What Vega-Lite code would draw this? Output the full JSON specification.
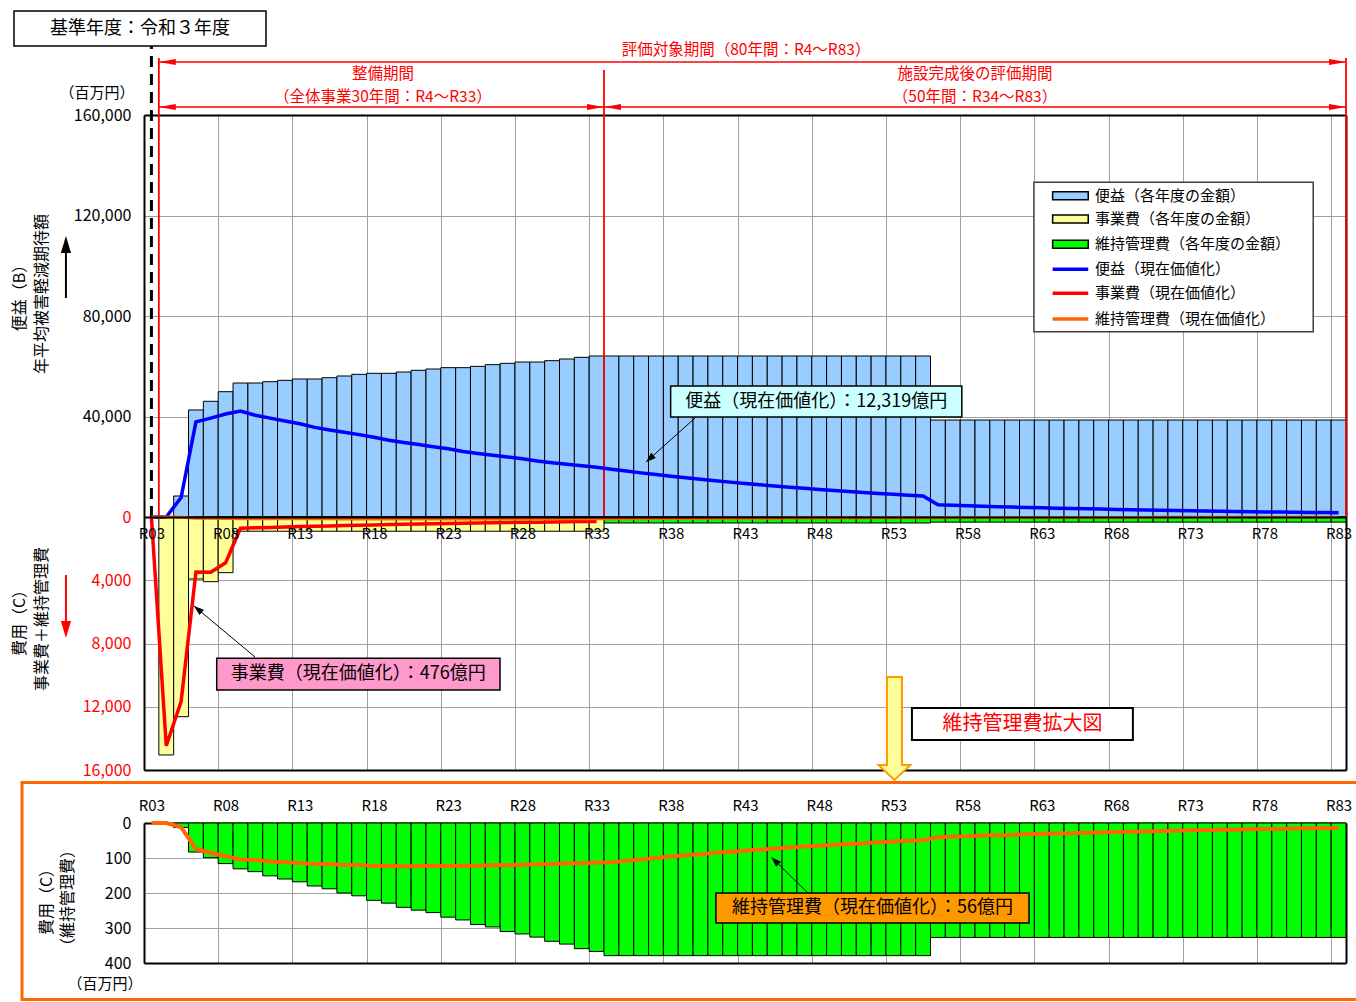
{
  "$schema": "https://vega.github.io/schema/vega-lite/v6.json",
  "width": 1356,
  "height": 1002,
  "autosize": {"type": "none"},
  "padding": 0,
  "background": "white",
  "config": {
    "view": {"stroke": null},
    "font": "Noto Sans CJK JP",
    "axis": {"labelFont": "Noto Sans CJK JP", "gridColor": "#a0a0a0", "gridWidth": 1, "gridOpacity": 1, "domainColor": "#000000", "domainWidth": 2, "labelFlush": false, "labelOverlap": false},
    "scale": {"continuousPadding": 0},
    "text": {"font": "Noto Sans CJK JP"}
  },
  "datasets": {
    "main": [
      {"year":3,"Bpv":0,"Cpv":0,"Mpv":0},
      {"year":4,"C":15050,"Bpv":0,"Cpv":14470,"Mpv":0},
      {"year":5,"B":8360,"C":12630,"M":13,"Bpv":7729,"Cpv":11677,"Mpv":12},
      {"year":6,"B":42600,"C":3920,"M":83,"Bpv":37871,"Cpv":3485,"Mpv":74},
      {"year":7,"B":46050,"C":4090,"M":99,"Bpv":39364,"Cpv":3496,"Mpv":85},
      {"year":8,"B":49870,"C":3520,"M":116,"Bpv":40990,"Cpv":2893,"Mpv":95},
      {"year":9,"B":53330,"C":900,"M":131,"Bpv":42148,"Cpv":711,"Mpv":104},
      {"year":10,"B":53330,"C":900,"M":139,"Bpv":40526,"Cpv":684,"Mpv":106},
      {"year":11,"B":53860,"C":900,"M":151,"Bpv":39355,"Cpv":658,"Mpv":110},
      {"year":12,"B":54400,"C":900,"M":160,"Bpv":38221,"Cpv":632,"Mpv":112},
      {"year":13,"B":54930,"C":900,"M":168,"Bpv":37109,"Cpv":608,"Mpv":114},
      {"year":14,"B":54930,"C":900,"M":180,"Bpv":35681,"Cpv":585,"Mpv":117},
      {"year":15,"B":55460,"C":900,"M":188,"Bpv":34640,"Cpv":562,"Mpv":117},
      {"year":16,"B":56120,"C":900,"M":200,"Bpv":33704,"Cpv":541,"Mpv":120},
      {"year":17,"B":56780,"C":900,"M":208,"Bpv":32789,"Cpv":520,"Mpv":120},
      {"year":18,"B":57190,"C":900,"M":221,"Bpv":31755,"Cpv":500,"Mpv":123},
      {"year":19,"B":57190,"C":900,"M":229,"Bpv":30534,"Cpv":481,"Mpv":122},
      {"year":20,"B":57710,"C":900,"M":241,"Bpv":29627,"Cpv":462,"Mpv":124},
      {"year":21,"B":58380,"C":900,"M":249,"Bpv":28818,"Cpv":444,"Mpv":123},
      {"year":22,"B":58900,"C":900,"M":256,"Bpv":27956,"Cpv":427,"Mpv":122},
      {"year":23,"B":59440,"C":900,"M":269,"Bpv":27127,"Cpv":411,"Mpv":123},
      {"year":24,"B":59440,"C":900,"M":277,"Bpv":26084,"Cpv":395,"Mpv":122},
      {"year":25,"B":59960,"C":900,"M":290,"Bpv":25301,"Cpv":380,"Mpv":122},
      {"year":26,"B":60630,"C":900,"M":297,"Bpv":24599,"Cpv":365,"Mpv":120},
      {"year":27,"B":61160,"C":900,"M":310,"Bpv":23860,"Cpv":351,"Mpv":121},
      {"year":28,"B":61690,"C":900,"M":317,"Bpv":23141,"Cpv":338,"Mpv":119},
      {"year":29,"B":61690,"C":900,"M":326,"Bpv":22251,"Cpv":325,"Mpv":118},
      {"year":30,"B":62220,"C":900,"M":338,"Bpv":21579,"Cpv":312,"Mpv":117},
      {"year":31,"B":62890,"C":900,"M":346,"Bpv":20973,"Cpv":300,"Mpv":115},
      {"year":32,"B":63550,"C":900,"M":359,"Bpv":20377,"Cpv":289,"Mpv":115},
      {"year":33,"B":64080,"C":900,"M":367,"Bpv":19757,"Cpv":277,"Mpv":113},
      {"year":34,"B":64080,"M":379,"Bpv":18997,"Mpv":112},
      {"year":35,"B":64080,"M":379,"Bpv":18267,"Mpv":108},
      {"year":36,"B":64080,"M":379,"Bpv":17564,"Mpv":104},
      {"year":37,"B":64080,"M":379,"Bpv":16888,"Mpv":100},
      {"year":38,"B":64080,"M":379,"Bpv":16239,"Mpv":96},
      {"year":39,"B":64080,"M":379,"Bpv":15614,"Mpv":92},
      {"year":40,"B":64080,"M":379,"Bpv":15014,"Mpv":89},
      {"year":41,"B":64080,"M":379,"Bpv":14436,"Mpv":85},
      {"year":42,"B":64080,"M":379,"Bpv":13881,"Mpv":82},
      {"year":43,"B":64080,"M":379,"Bpv":13347,"Mpv":79},
      {"year":44,"B":64080,"M":379,"Bpv":12834,"Mpv":76},
      {"year":45,"B":64080,"M":379,"Bpv":12340,"Mpv":73},
      {"year":46,"B":64080,"M":379,"Bpv":11866,"Mpv":70},
      {"year":47,"B":64080,"M":379,"Bpv":11409,"Mpv":67},
      {"year":48,"B":64080,"M":379,"Bpv":10970,"Mpv":65},
      {"year":49,"B":64080,"M":379,"Bpv":10549,"Mpv":62},
      {"year":50,"B":64080,"M":379,"Bpv":10143,"Mpv":60},
      {"year":51,"B":64080,"M":379,"Bpv":9753,"Mpv":58},
      {"year":52,"B":64080,"M":379,"Bpv":9378,"Mpv":55},
      {"year":53,"B":64080,"M":379,"Bpv":9017,"Mpv":53},
      {"year":54,"B":64080,"M":379,"Bpv":8670,"Mpv":51},
      {"year":55,"B":64080,"M":379,"Bpv":8337,"Mpv":49},
      {"year":56,"B":38600,"M":327,"Bpv":4829,"Mpv":41},
      {"year":57,"B":38600,"M":327,"Bpv":4643,"Mpv":39},
      {"year":58,"B":38600,"M":327,"Bpv":4464,"Mpv":38},
      {"year":59,"B":38600,"M":327,"Bpv":4293,"Mpv":36},
      {"year":60,"B":38600,"M":327,"Bpv":4127,"Mpv":35},
      {"year":61,"B":38600,"M":327,"Bpv":3969,"Mpv":34},
      {"year":62,"B":38600,"M":327,"Bpv":3816,"Mpv":32},
      {"year":63,"B":38600,"M":327,"Bpv":3669,"Mpv":31},
      {"year":64,"B":38600,"M":327,"Bpv":3528,"Mpv":30},
      {"year":65,"B":38600,"M":327,"Bpv":3393,"Mpv":29},
      {"year":66,"B":38600,"M":327,"Bpv":3262,"Mpv":28},
      {"year":67,"B":38600,"M":327,"Bpv":3137,"Mpv":27},
      {"year":68,"B":38600,"M":327,"Bpv":3016,"Mpv":26},
      {"year":69,"B":38600,"M":327,"Bpv":2900,"Mpv":25},
      {"year":70,"B":38600,"M":327,"Bpv":2788,"Mpv":24},
      {"year":71,"B":38600,"M":327,"Bpv":2681,"Mpv":23},
      {"year":72,"B":38600,"M":327,"Bpv":2578,"Mpv":22},
      {"year":73,"B":38600,"M":327,"Bpv":2479,"Mpv":21},
      {"year":74,"B":38600,"M":327,"Bpv":2384,"Mpv":20},
      {"year":75,"B":38600,"M":327,"Bpv":2292,"Mpv":19},
      {"year":76,"B":38600,"M":327,"Bpv":2204,"Mpv":19},
      {"year":77,"B":38600,"M":327,"Bpv":2119,"Mpv":18},
      {"year":78,"B":38600,"M":327,"Bpv":2037,"Mpv":17},
      {"year":79,"B":38600,"M":327,"Bpv":1959,"Mpv":17},
      {"year":80,"B":38600,"M":327,"Bpv":1884,"Mpv":16},
      {"year":81,"B":38600,"M":327,"Bpv":1811,"Mpv":15},
      {"year":82,"B":38600,"M":327,"Bpv":1742,"Mpv":15},
      {"year":83,"B":38600,"M":327,"Bpv":1675,"Mpv":14}
    ]
  },
  "resolve": {"scale": {"y": "independent"}, "axis": {"x": "independent", "y": "independent"}},
  "layer": [
    {
      "data": {"name": "main"},
      "mark": {"type": "bar", "orient": "vertical", "width": 14.84, "fill": "#99CCFF", "stroke": "#000000", "strokeWidth": 1},
      "encoding": {
        "x": {"field": "year", "type": "quantitative", "scale": {"domain": [2.5, 83.5], "range": [144, 1346], "zero": false, "nice": false, "padding": 0},
          "axis": {"orient": "top", "offset": -115, "values": [2.5,7.5,12.5,17.5,22.5,27.5,32.5,37.5,42.5,47.5,52.5,57.5,62.5,67.5,72.5,77.5,82.5], "grid": true, "labels": false, "ticks": false, "domain": true, "title": null}},
        "y": {"field": "B", "type": "quantitative", "scale": {"domain": [0, 160000], "range": [517, 115], "zero": false, "nice": false},
          "axis": {"orient": "left", "offset": -144, "values": [40000, 80000, 120000, 160000], "labelExpr": "format(datum.value, ',')", "grid": true, "ticks": false, "labelPadding": 13, "labelFontSize": 16, "labelColor": "#000000", "domain": true, "title": null}}
      }
    },
    {
      "data": {"name": "main"},
      "mark": {"type": "bar", "orient": "vertical", "width": 14.84, "fill": "#00FF00", "stroke": "#000000", "strokeWidth": 1},
      "encoding": {
        "x": {"field": "year", "type": "quantitative", "scale": {"domain": [2.5, 83.5], "range": [144, 1346], "zero": false, "nice": false, "padding": 0},
          "axis": {"orient": "bottom", "offset": -232, "labels": false, "ticks": false, "grid": false, "domain": true, "title": null}},
        "y": {"field": "M", "type": "quantitative", "scale": {"domain": [0, 16000], "range": [517, 770], "zero": false, "nice": false},
          "axis": {"orient": "right", "offset": -10, "labels": false, "ticks": false, "grid": false, "domain": true, "title": null}}
      }
    },
    {
      "data": {"name": "main"},
      "mark": {"type": "bar", "orient": "vertical", "width": 14.84, "fill": "#FFFF99", "stroke": "#000000", "strokeWidth": 1},
      "encoding": {
        "x": {"field": "year", "type": "quantitative", "scale": {"domain": [2.5, 83.5], "range": [144, 1346], "zero": false, "nice": false, "padding": 0},
          "axis": {"orient": "top", "offset": -517, "values": [2.5,7.5,12.5,17.5,22.5,27.5,32.5,37.5,42.5,47.5,52.5,57.5,62.5,67.5,72.5,77.5,82.5], "grid": true, "labels": false, "ticks": false, "domain": false, "title": null}},
        "y": {"field": "C", "type": "quantitative", "scale": {"domain": [0, 16000], "range": [517, 770], "zero": false, "nice": false},
          "axis": {"orient": "left", "offset": -144, "values": [0, 4000, 8000, 12000, 16000], "labelExpr": "format(datum.value, ',')", "grid": true, "ticks": false, "labelPadding": 13, "labelFontSize": 16, "labelColor": "#FF0000", "domain": true, "title": null}}
      }
    },
    {
      "data": {"name": "main"},
      "mark": {"type": "bar", "orient": "vertical", "width": 14.84, "fill": "#00FF00", "stroke": "#000000", "strokeWidth": 1},
      "encoding": {
        "x": {"field": "year", "type": "quantitative", "scale": {"domain": [2.5, 83.5], "range": [144, 1346], "zero": false, "nice": false, "padding": 0},
          "axis": {"orient": "top", "offset": -823, "values": [2.5,7.5,12.5,17.5,22.5,27.5,32.5,37.5,42.5,47.5,52.5,57.5,62.5,67.5,72.5,77.5,82.5], "labelExpr": "'R' + (datum.value + 0.5 < 10 ? '0' : '') + (datum.value + 0.5)", "labelOffset": 7.42, "labelPadding": 10, "labelFontSize": 15, "labelColor": "#000000", "grid": true, "ticks": false, "domain": true, "title": null}},
        "y": {"field": "M", "type": "quantitative", "scale": {"domain": [0, 400], "range": [823, 963], "zero": false, "nice": false},
          "axis": {"orient": "left", "offset": -144, "values": [0, 100, 200, 300, 400], "grid": true, "ticks": false, "labelPadding": 13, "labelFontSize": 16, "labelColor": "#000000", "domain": true, "title": null}}
      }
    },
    {
      "data": {"values": [{"x": 3, "y": 0, "y2": 187500}]},
      "mark": {"type": "rule", "color": "#000000", "strokeWidth": 3, "strokeDash": [11, 7]},
      "encoding": {
        "x": {"field": "x", "type": "quantitative", "scale": {"domain": [2.5, 83.5], "range": [144, 1346], "zero": false, "nice": false, "padding": 0}, "axis": null},
        "y": {"field": "y", "type": "quantitative", "scale": {"domain": [0, 160000], "range": [517, 115], "zero": false, "nice": false}, "axis": null},
        "y2": {"field": "y2"}
      }
    },
    {
      "data": {"values": [{"x": 3.5, "y": 0, "y2": 182700}, {"x": 33.5, "y": 0, "y2": 177900}, {"x": 83.5, "y": 0, "y2": 182700}]},
      "mark": {"type": "rule", "color": "#FF0000", "strokeWidth": 1.8},
      "encoding": {
        "x": {"field": "x", "type": "quantitative", "scale": {"domain": [2.5, 83.5], "range": [144, 1346], "zero": false, "nice": false, "padding": 0}, "axis": null},
        "y": {"field": "y", "type": "quantitative", "scale": {"domain": [0, 160000], "range": [517, 115], "zero": false, "nice": false}, "axis": null},
        "y2": {"field": "y2"}
      }
    },
    {
      "data": {"name": "main"},
      "mark": {"type": "line", "color": "#0000FF", "strokeWidth": 3.5},
      "encoding": {
        "x": {"field": "year", "type": "quantitative", "scale": {"domain": [2.5, 83.5], "range": [144, 1346], "zero": false, "nice": false, "padding": 0},
          "axis": {"orient": "bottom", "offset": -485, "values": [3,8,13,18,23,28,33,38,43,48,53,58,63,68,73,78,83], "labelExpr": "'R' + (datum.value < 10 ? '0' : '') + datum.value", "labelPadding": 9, "labelFontSize": 15, "labelColor": "#000000", "ticks": false, "grid": false, "domain": true, "zindex": 1, "title": null}},
        "y": {"field": "Bpv", "type": "quantitative", "scale": {"domain": [0, 160000], "range": [517, 115], "zero": false, "nice": false},
          "axis": {"orient": "right", "offset": -10, "labels": false, "ticks": false, "grid": false, "domain": true, "title": null}}
      }
    },
    {
      "data": {"name": "main"},
      "mark": {"type": "line", "color": "#FF0000", "strokeWidth": 3.5},
      "encoding": {
        "x": {"field": "year", "type": "quantitative", "scale": {"domain": [2.5, 83.5], "range": [144, 1346], "zero": false, "nice": false, "padding": 0}, "axis": null},
        "y": {"field": "Cpv", "type": "quantitative", "scale": {"domain": [0, 16000], "range": [517, 770], "zero": false, "nice": false}, "axis": null}
      }
    },
    {
      "data": {"name": "main"},
      "mark": {"type": "line", "color": "#FF6600", "strokeWidth": 3},
      "encoding": {
        "x": {"field": "year", "type": "quantitative", "scale": {"domain": [2.5, 83.5], "range": [144, 1346], "zero": false, "nice": false, "padding": 0}, "axis": null},
        "y": {"field": "Mpv", "type": "quantitative", "scale": {"domain": [0, 16000], "range": [517, 770], "zero": false, "nice": false}, "axis": null}
      }
    },
    {
      "data": {"name": "main"},
      "mark": {"type": "line", "color": "#FF6600", "strokeWidth": 4},
      "encoding": {
        "x": {"field": "year", "type": "quantitative", "scale": {"domain": [2.5, 83.5], "range": [144, 1346], "zero": false, "nice": false, "padding": 0},
          "axis": {"orient": "bottom", "offset": -39, "labels": false, "ticks": false, "grid": false, "domain": true, "title": null}},
        "y": {"field": "Mpv", "type": "quantitative", "scale": {"domain": [0, 400], "range": [823, 963], "zero": false, "nice": false},
          "axis": {"orient": "right", "offset": -10, "labels": false, "ticks": false, "grid": false, "domain": true, "title": null}}
      }
    },
    {
      "data": {"values": [{"x": -6.26, "x2": 10.72, "y": 187500, "y2": 201400}]},
      "mark": {"type": "rect", "fill": "#FFFFFF", "stroke": "#000000", "strokeWidth": 1.5},
      "encoding": {
        "x": {"field": "x", "type": "quantitative", "scale": {"domain": [2.5, 83.5], "range": [144, 1346], "zero": false, "nice": false, "padding": 0}, "axis": null},
        "x2": {"field": "x2"},
        "y": {"field": "y", "type": "quantitative", "scale": {"domain": [0, 160000], "range": [517, 115], "zero": false, "nice": false}, "axis": null},
        "y2": {"field": "y2"}
      }
    },
    {
      "data": {"values": [{"x": 2.23, "y": 194200, "t": "基準年度：令和３年度"}]},
      "mark": {"type": "text", "fontSize": 18, "color": "#000000", "align": "center", "baseline": "middle"},
      "encoding": {
        "x": {"field": "x", "type": "quantitative", "scale": {"domain": [2.5, 83.5], "range": [144, 1346], "zero": false, "nice": false, "padding": 0}, "axis": null},
        "y": {"field": "y", "type": "quantitative", "scale": {"domain": [0, 160000], "range": [517, 115], "zero": false, "nice": false}, "axis": null},
        "text": {"field": "t"}
      }
    },
    {
      "data": {"values": [{"x": 3.5, "x2": 83.5, "y": 181100}, {"x": 3.5, "x2": 33.5, "y": 163200}, {"x": 33.5, "x2": 83.5, "y": 163200}]},
      "mark": {"type": "rule", "color": "#FF0000", "strokeWidth": 1.5},
      "encoding": {
        "x": {"field": "x", "type": "quantitative", "scale": {"domain": [2.5, 83.5], "range": [144, 1346], "zero": false, "nice": false, "padding": 0}, "axis": null},
        "x2": {"field": "x2"},
        "y": {"field": "y", "type": "quantitative", "scale": {"domain": [0, 160000], "range": [517, 115], "zero": false, "nice": false}, "axis": null}
      }
    },
    {
      "data": {"values": [{"x": 3.5, "y": 181100}, {"x": 3.5, "y": 163200}, {"x": 33.5, "y": 163200}]},
      "mark": {"type": "point", "shape": "M0,0L1,-0.18L1,0.18Z", "size": 1156, "filled": true, "color": "#FF0000", "opacity": 1, "strokeWidth": 0},
      "encoding": {
        "x": {"field": "x", "type": "quantitative", "scale": {"domain": [2.5, 83.5], "range": [144, 1346], "zero": false, "nice": false, "padding": 0}, "axis": null},
        "y": {"field": "y", "type": "quantitative", "scale": {"domain": [0, 160000], "range": [517, 115], "zero": false, "nice": false}, "axis": null}
      }
    },
    {
      "data": {"values": [{"x": 83.5, "y": 181100}, {"x": 33.5, "y": 163200}, {"x": 83.5, "y": 163200}]},
      "mark": {"type": "point", "shape": "M0,0L-1,-0.18L-1,0.18Z", "size": 1156, "filled": true, "color": "#FF0000", "opacity": 1, "strokeWidth": 0},
      "encoding": {
        "x": {"field": "x", "type": "quantitative", "scale": {"domain": [2.5, 83.5], "range": [144, 1346], "zero": false, "nice": false, "padding": 0}, "axis": null},
        "y": {"field": "y", "type": "quantitative", "scale": {"domain": [0, 160000], "range": [517, 115], "zero": false, "nice": false}, "axis": null}
      }
    },
    {
      "data": {"values": [
        {"x": 43.07, "y": 185900, "t": "評価対象期間（80年間：R4～R83）"},
        {"x": 18.6, "y": 176300, "t": "整備期間"},
        {"x": 18.6, "y": 167200, "t": "（全体事業30年間：R4～R33）"},
        {"x": 58.5, "y": 176300, "t": "施設完成後の評価期間"},
        {"x": 58.5, "y": 167200, "t": "（50年間：R34～R83）"}
      ]},
      "mark": {"type": "text", "fontSize": 15.5, "color": "#FF0000", "align": "center", "baseline": "middle"},
      "encoding": {
        "x": {"field": "x", "type": "quantitative", "scale": {"domain": [2.5, 83.5], "range": [144, 1346], "zero": false, "nice": false, "padding": 0}, "axis": null},
        "y": {"field": "y", "type": "quantitative", "scale": {"domain": [0, 160000], "range": [517, 115], "zero": false, "nice": false}, "axis": null},
        "text": {"field": "t"}
      }
    },
    {
      "data": {"values": [{"x": -5.86, "y": 88750, "t": "便益（B）"}, {"x": -4.37, "y": 88750, "t": "年平均被害軽減期待額"}]},
      "mark": {"type": "text", "fontSize": 16, "color": "#000000", "align": "center", "baseline": "middle", "angle": 270},
      "encoding": {
        "x": {"field": "x", "type": "quantitative", "scale": {"domain": [2.5, 83.5], "range": [144, 1346], "zero": false, "nice": false, "padding": 0}, "axis": null},
        "y": {"field": "y", "type": "quantitative", "scale": {"domain": [0, 160000], "range": [517, 115], "zero": false, "nice": false}, "axis": null},
        "text": {"field": "t"}
      }
    },
    {
      "data": {"values": [{"x": -0.67, "y": 168750, "t": "（百万円）"}]},
      "mark": {"type": "text", "fontSize": 15, "color": "#000000", "align": "center", "baseline": "middle"},
      "encoding": {
        "x": {"field": "x", "type": "quantitative", "scale": {"domain": [2.5, 83.5], "range": [144, 1346], "zero": false, "nice": false, "padding": 0}, "axis": null},
        "y": {"field": "y", "type": "quantitative", "scale": {"domain": [0, 160000], "range": [517, 115], "zero": false, "nice": false}, "axis": null},
        "text": {"field": "t"}
      }
    },
    {
      "data": {"values": [{"x": -2.76, "y": 87160, "y2": 105070}]},
      "mark": {"type": "rule", "color": "#000000", "strokeWidth": 2},
      "encoding": {
        "x": {"field": "x", "type": "quantitative", "scale": {"domain": [2.5, 83.5], "range": [144, 1346], "zero": false, "nice": false, "padding": 0}, "axis": null},
        "y": {"field": "y", "type": "quantitative", "scale": {"domain": [0, 160000], "range": [517, 115], "zero": false, "nice": false}, "axis": null},
        "y2": {"field": "y2"}
      }
    },
    {
      "data": {"values": [{"x": -2.76, "y": 111840}]},
      "mark": {"type": "point", "shape": "M0,0L-0.3,1L0.3,1Z", "size": 1156, "filled": true, "color": "#000000", "opacity": 1, "strokeWidth": 0},
      "encoding": {
        "x": {"field": "x", "type": "quantitative", "scale": {"domain": [2.5, 83.5], "range": [144, 1346], "zero": false, "nice": false, "padding": 0}, "axis": null},
        "y": {"field": "y", "type": "quantitative", "scale": {"domain": [0, 160000], "range": [517, 115], "zero": false, "nice": false}, "axis": null}
      }
    },
    {
      "data": {"values": [{"x": -5.86, "y": 6450, "t": "費用（C）"}, {"x": -4.37, "y": 6450, "t": "事業費＋維持管理費"}]},
      "mark": {"type": "text", "fontSize": 16, "color": "#000000", "align": "center", "baseline": "middle", "angle": 270},
      "encoding": {
        "x": {"field": "x", "type": "quantitative", "scale": {"domain": [2.5, 83.5], "range": [144, 1346], "zero": false, "nice": false, "padding": 0}, "axis": null},
        "y": {"field": "y", "type": "quantitative", "scale": {"domain": [0, 16000], "range": [517, 770], "zero": false, "nice": false}, "axis": null},
        "text": {"field": "t"}
      }
    },
    {
      "data": {"values": [{"x": -2.76, "y": 3668, "y2": 6580}]},
      "mark": {"type": "rule", "color": "#FF0000", "strokeWidth": 2},
      "encoding": {
        "x": {"field": "x", "type": "quantitative", "scale": {"domain": [2.5, 83.5], "range": [144, 1346], "zero": false, "nice": false, "padding": 0}, "axis": null},
        "y": {"field": "y", "type": "quantitative", "scale": {"domain": [0, 16000], "range": [517, 770], "zero": false, "nice": false}, "axis": null},
        "y2": {"field": "y2"}
      }
    },
    {
      "data": {"values": [{"x": -2.76, "y": 7652}]},
      "mark": {"type": "point", "shape": "M0,0L-0.3,-1L0.3,-1Z", "size": 1156, "filled": true, "color": "#FF0000", "opacity": 1, "strokeWidth": 0},
      "encoding": {
        "x": {"field": "x", "type": "quantitative", "scale": {"domain": [2.5, 83.5], "range": [144, 1346], "zero": false, "nice": false, "padding": 0}, "axis": null},
        "y": {"field": "y", "type": "quantitative", "scale": {"domain": [0, 16000], "range": [517, 770], "zero": false, "nice": false}, "axis": null}
      }
    },
    {
      "data": {"values": [{"x": 39.63, "x2": 36.33, "y": 39400, "y2": 21890}]},
      "mark": {"type": "rule", "color": "#000000", "strokeWidth": 1},
      "encoding": {
        "x": {"field": "x", "type": "quantitative", "scale": {"domain": [2.5, 83.5], "range": [144, 1346], "zero": false, "nice": false, "padding": 0}, "axis": null},
        "x2": {"field": "x2"},
        "y": {"field": "y", "type": "quantitative", "scale": {"domain": [0, 160000], "range": [517, 115], "zero": false, "nice": false}, "axis": null},
        "y2": {"field": "y2"}
      }
    },
    {
      "data": {"values": [{"x": 36.33, "y": 21890}]},
      "mark": {"type": "point", "shape": "M0,0L1,-0.35L1,0.35Z", "size": 400, "angle": 318.7, "filled": true, "color": "#000000", "opacity": 1, "strokeWidth": 0},
      "encoding": {
        "x": {"field": "x", "type": "quantitative", "scale": {"domain": [2.5, 83.5], "range": [144, 1346], "zero": false, "nice": false, "padding": 0}, "axis": null},
        "y": {"field": "y", "type": "quantitative", "scale": {"domain": [0, 160000], "range": [517, 115], "zero": false, "nice": false}, "axis": null}
      }
    },
    {
      "data": {"values": [{"x": 37.99, "x2": 57.61, "y": 39800, "y2": 52140}]},
      "mark": {"type": "rect", "fill": "#CCFFFF", "stroke": "#000000", "strokeWidth": 1.5},
      "encoding": {
        "x": {"field": "x", "type": "quantitative", "scale": {"domain": [2.5, 83.5], "range": [144, 1346], "zero": false, "nice": false, "padding": 0}, "axis": null},
        "x2": {"field": "x2"},
        "y": {"field": "y", "type": "quantitative", "scale": {"domain": [0, 160000], "range": [517, 115], "zero": false, "nice": false}, "axis": null},
        "y2": {"field": "y2"}
      }
    },
    {
      "data": {"values": [{"x": 47.8, "y": 45970, "t": "便益（現在価値化）：12,319億円"}]},
      "mark": {"type": "text", "fontSize": 18, "color": "#000000", "align": "center", "baseline": "middle"},
      "encoding": {
        "x": {"field": "x", "type": "quantitative", "scale": {"domain": [2.5, 83.5], "range": [144, 1346], "zero": false, "nice": false, "padding": 0}, "axis": null},
        "y": {"field": "y", "type": "quantitative", "scale": {"domain": [0, 160000], "range": [517, 115], "zero": false, "nice": false}, "axis": null},
        "text": {"field": "t"}
      }
    },
    {
      "data": {"values": [{"x": 9.98, "x2": 5.87, "y": 8853, "y2": 5628}]},
      "mark": {"type": "rule", "color": "#000000", "strokeWidth": 1},
      "encoding": {
        "x": {"field": "x", "type": "quantitative", "scale": {"domain": [2.5, 83.5], "range": [144, 1346], "zero": false, "nice": false, "padding": 0}, "axis": null},
        "x2": {"field": "x2"},
        "y": {"field": "y", "type": "quantitative", "scale": {"domain": [0, 16000], "range": [517, 770], "zero": false, "nice": false}, "axis": null},
        "y2": {"field": "y2"}
      }
    },
    {
      "data": {"values": [{"x": 5.87, "y": 5628}]},
      "mark": {"type": "point", "shape": "M0,0L1,-0.35L1,0.35Z", "size": 400, "angle": 39.9, "filled": true, "color": "#000000", "opacity": 1, "strokeWidth": 0},
      "encoding": {
        "x": {"field": "x", "type": "quantitative", "scale": {"domain": [2.5, 83.5], "range": [144, 1346], "zero": false, "nice": false, "padding": 0}, "axis": null},
        "y": {"field": "y", "type": "quantitative", "scale": {"domain": [0, 16000], "range": [517, 770], "zero": false, "nice": false}, "axis": null}
      }
    },
    {
      "data": {"values": [{"x": 7.4, "x2": 26.49, "y": 8936, "y2": 10940}]},
      "mark": {"type": "rect", "fill": "#FF99CC", "stroke": "#000000", "strokeWidth": 1.5},
      "encoding": {
        "x": {"field": "x", "type": "quantitative", "scale": {"domain": [2.5, 83.5], "range": [144, 1346], "zero": false, "nice": false, "padding": 0}, "axis": null},
        "x2": {"field": "x2"},
        "y": {"field": "y", "type": "quantitative", "scale": {"domain": [0, 16000], "range": [517, 770], "zero": false, "nice": false}, "axis": null},
        "y2": {"field": "y2"}
      }
    },
    {
      "data": {"values": [{"x": 16.94, "y": 9930, "t": "事業費（現在価値化）：476億円"}]},
      "mark": {"type": "text", "fontSize": 18, "color": "#000000", "align": "center", "baseline": "middle"},
      "encoding": {
        "x": {"field": "x", "type": "quantitative", "scale": {"domain": [2.5, 83.5], "range": [144, 1346], "zero": false, "nice": false, "padding": 0}, "axis": null},
        "y": {"field": "y", "type": "quantitative", "scale": {"domain": [0, 16000], "range": [517, 770], "zero": false, "nice": false}, "axis": null},
        "text": {"field": "t"}
      }
    },
    {
      "data": {"values": [{"x": 54.25, "x2": 69.14, "y": 12079, "y2": 14102}]},
      "mark": {"type": "rect", "fill": "#FFFFFF", "stroke": "#000000", "strokeWidth": 2},
      "encoding": {
        "x": {"field": "x", "type": "quantitative", "scale": {"domain": [2.5, 83.5], "range": [144, 1346], "zero": false, "nice": false, "padding": 0}, "axis": null},
        "x2": {"field": "x2"},
        "y": {"field": "y", "type": "quantitative", "scale": {"domain": [0, 16000], "range": [517, 770], "zero": false, "nice": false}, "axis": null},
        "y2": {"field": "y2"}
      }
    },
    {
      "data": {"values": [{"x": 61.7, "y": 13090, "t": "維持管理費拡大図"}]},
      "mark": {"type": "text", "fontSize": 20, "color": "#FF0000", "align": "center", "baseline": "middle"},
      "encoding": {
        "x": {"field": "x", "type": "quantitative", "scale": {"domain": [2.5, 83.5], "range": [144, 1346], "zero": false, "nice": false, "padding": 0}, "axis": null},
        "y": {"field": "y", "type": "quantitative", "scale": {"domain": [0, 16000], "range": [517, 770], "zero": false, "nice": false}, "axis": null},
        "text": {"field": "t"}
      }
    },
    {
      "data": {"values": [{"x": 53.07, "y": 13375}]},
      "mark": {"type": "point", "shape": "M-0.146,-1L0.146,-1L0.146,0.709L0.31,0.709L0,1L-0.31,0.709L-0.146,0.709Z", "size": 10609, "filled": true, "fill": "#FFFF99", "stroke": "#FF9900", "strokeWidth": 2, "opacity": 1},
      "encoding": {
        "x": {"field": "x", "type": "quantitative", "scale": {"domain": [2.5, 83.5], "range": [144, 1346], "zero": false, "nice": false, "padding": 0}, "axis": null},
        "y": {"field": "y", "type": "quantitative", "scale": {"domain": [0, 16000], "range": [517, 770], "zero": false, "nice": false}, "axis": null}
      }
    },
    {
      "data": {"values": [{"x": -5.72, "x2": 84.4, "y": -115.7, "y2": 504.3}]},
      "mark": {"type": "rect", "filled": false, "fill": null, "stroke": "#FF6600", "strokeWidth": 3},
      "encoding": {
        "x": {"field": "x", "type": "quantitative", "scale": {"domain": [2.5, 83.5], "range": [144, 1346], "zero": false, "nice": false, "padding": 0}, "axis": null},
        "x2": {"field": "x2"},
        "y": {"field": "y", "type": "quantitative", "scale": {"domain": [0, 400], "range": [823, 963], "zero": false, "nice": false}, "axis": null},
        "y2": {"field": "y2"}
      }
    },
    {
      "data": {"values": [{"x": -4.04, "y": 214.3, "t": "費用（C）"}, {"x": -2.62, "y": 214.3, "t": "（維持管理費）"}]},
      "mark": {"type": "text", "fontSize": 16, "color": "#000000", "align": "center", "baseline": "middle", "angle": 270},
      "encoding": {
        "x": {"field": "x", "type": "quantitative", "scale": {"domain": [2.5, 83.5], "range": [144, 1346], "zero": false, "nice": false, "padding": 0}, "axis": null},
        "y": {"field": "y", "type": "quantitative", "scale": {"domain": [0, 400], "range": [823, 963], "zero": false, "nice": false}, "axis": null},
        "text": {"field": "t"}
      }
    },
    {
      "data": {"values": [{"x": -0.13, "y": 460, "t": "（百万円）"}]},
      "mark": {"type": "text", "fontSize": 15, "color": "#000000", "align": "center", "baseline": "middle"},
      "encoding": {
        "x": {"field": "x", "type": "quantitative", "scale": {"domain": [2.5, 83.5], "range": [144, 1346], "zero": false, "nice": false, "padding": 0}, "axis": null},
        "y": {"field": "y", "type": "quantitative", "scale": {"domain": [0, 400], "range": [823, 963], "zero": false, "nice": false}, "axis": null},
        "text": {"field": "t"}
      }
    },
    {
      "data": {"values": [{"x": 47.24, "x2": 44.78, "y": 200, "y2": 98}]},
      "mark": {"type": "rule", "color": "#000000", "strokeWidth": 1},
      "encoding": {
        "x": {"field": "x", "type": "quantitative", "scale": {"domain": [2.5, 83.5], "range": [144, 1346], "zero": false, "nice": false, "padding": 0}, "axis": null},
        "x2": {"field": "x2"},
        "y": {"field": "y", "type": "quantitative", "scale": {"domain": [0, 400], "range": [823, 963], "zero": false, "nice": false}, "axis": null},
        "y2": {"field": "y2"}
      }
    },
    {
      "data": {"values": [{"x": 44.78, "y": 98}]},
      "mark": {"type": "point", "shape": "M0,0L1,-0.35L1,0.35Z", "size": 400, "angle": 44.3, "filled": true, "color": "#000000", "opacity": 1, "strokeWidth": 0},
      "encoding": {
        "x": {"field": "x", "type": "quantitative", "scale": {"domain": [2.5, 83.5], "range": [144, 1346], "zero": false, "nice": false, "padding": 0}, "axis": null},
        "y": {"field": "y", "type": "quantitative", "scale": {"domain": [0, 400], "range": [823, 963], "zero": false, "nice": false}, "axis": null}
      }
    },
    {
      "data": {"values": [{"x": 41.04, "x2": 62.14, "y": 200, "y2": 285.7}]},
      "mark": {"type": "rect", "fill": "#FF9900", "stroke": "#000000", "strokeWidth": 1.5},
      "encoding": {
        "x": {"field": "x", "type": "quantitative", "scale": {"domain": [2.5, 83.5], "range": [144, 1346], "zero": false, "nice": false, "padding": 0}, "axis": null},
        "x2": {"field": "x2"},
        "y": {"field": "y", "type": "quantitative", "scale": {"domain": [0, 400], "range": [823, 963], "zero": false, "nice": false}, "axis": null},
        "y2": {"field": "y2"}
      }
    },
    {
      "data": {"values": [{"x": 51.59, "y": 242.9, "t": "維持管理費（現在価値化）：56億円"}]},
      "mark": {"type": "text", "fontSize": 18, "color": "#000000", "align": "center", "baseline": "middle"},
      "encoding": {
        "x": {"field": "x", "type": "quantitative", "scale": {"domain": [2.5, 83.5], "range": [144, 1346], "zero": false, "nice": false, "padding": 0}, "axis": null},
        "y": {"field": "y", "type": "quantitative", "scale": {"domain": [0, 400], "range": [823, 963], "zero": false, "nice": false}, "axis": null},
        "text": {"field": "t"}
      }
    },
    {
      "data": {"values": [{"x": 62.47, "x2": 81.29, "y": 73750, "y2": 133210}]},
      "mark": {"type": "rect", "fill": "#FFFFFF", "stroke": "#404040", "strokeWidth": 1.5},
      "encoding": {
        "x": {"field": "x", "type": "quantitative", "scale": {"domain": [2.5, 83.5], "range": [144, 1346], "zero": false, "nice": false, "padding": 0}, "axis": null},
        "x2": {"field": "x2"},
        "y": {"field": "y", "type": "quantitative", "scale": {"domain": [0, 160000], "range": [517, 115], "zero": false, "nice": false}, "axis": null},
        "y2": {"field": "y2"}
      }
    },
    {
      "data": {"values": [
        {"s": "便益（各年度の金額）", "x": 63.73, "x2": 66.13, "y": 126280, "y2": 129480},
        {"s": "事業費（各年度の金額）", "x": 63.73, "x2": 66.13, "y": 117000, "y2": 120200},
        {"s": "維持管理費（各年度の金額）", "x": 63.73, "x2": 66.13, "y": 106930, "y2": 110130}
      ]},
      "mark": {"type": "rect", "stroke": "#000000", "strokeWidth": 1.5},
      "encoding": {
        "x": {"field": "x", "type": "quantitative", "scale": {"domain": [2.5, 83.5], "range": [144, 1346], "zero": false, "nice": false, "padding": 0}, "axis": null},
        "x2": {"field": "x2"},
        "y": {"field": "y", "type": "quantitative", "scale": {"domain": [0, 160000], "range": [517, 115], "zero": false, "nice": false}, "axis": null},
        "y2": {"field": "y2"},
        "color": {"field": "s", "type": "nominal", "legend": null, "scale": {"domain": ["便益（各年度の金額）","事業費（各年度の金額）","維持管理費（各年度の金額）","便益（現在価値化）","事業費（現在価値化）","維持管理費（現在価値化）"], "range": ["#99CCFF","#FFFF99","#00FF00","#0000FF","#FF0000","#FF6600"]}}
      }
    },
    {
      "data": {"values": [
        {"s": "便益（現在価値化）", "x": 63.73, "x2": 66.13, "y": 98590},
        {"s": "事業費（現在価値化）", "x": 63.73, "x2": 66.13, "y": 89030},
        {"s": "維持管理費（現在価値化）", "x": 63.73, "x2": 66.13, "y": 78800}
      ]},
      "mark": {"type": "rule", "strokeWidth": 3.5},
      "encoding": {
        "x": {"field": "x", "type": "quantitative", "scale": {"domain": [2.5, 83.5], "range": [144, 1346], "zero": false, "nice": false, "padding": 0}, "axis": null},
        "x2": {"field": "x2"},
        "y": {"field": "y", "type": "quantitative", "scale": {"domain": [0, 160000], "range": [517, 115], "zero": false, "nice": false}, "axis": null},
        "color": {"field": "s", "type": "nominal", "legend": null, "scale": {"domain": ["便益（各年度の金額）","事業費（各年度の金額）","維持管理費（各年度の金額）","便益（現在価値化）","事業費（現在価値化）","維持管理費（現在価値化）"], "range": ["#99CCFF","#FFFF99","#00FF00","#0000FF","#FF0000","#FF6600"]}}
      }
    },
    {
      "data": {"values": [
        {"s": "便益（各年度の金額）", "x": 66.58, "y": 127880},
        {"s": "事業費（各年度の金額）", "x": 66.58, "y": 118600},
        {"s": "維持管理費（各年度の金額）", "x": 66.58, "y": 108530},
        {"s": "便益（現在価値化）", "x": 66.58, "y": 98590},
        {"s": "事業費（現在価値化）", "x": 66.58, "y": 89030},
        {"s": "維持管理費（現在価値化）", "x": 66.58, "y": 78800}
      ]},
      "mark": {"type": "text", "fontSize": 15, "color": "#000000", "align": "left", "baseline": "middle"},
      "encoding": {
        "x": {"field": "x", "type": "quantitative", "scale": {"domain": [2.5, 83.5], "range": [144, 1346], "zero": false, "nice": false, "padding": 0}, "axis": null},
        "y": {"field": "y", "type": "quantitative", "scale": {"domain": [0, 160000], "range": [517, 115], "zero": false, "nice": false}, "axis": null},
        "text": {"field": "s"}
      }
    }
  ]
}
